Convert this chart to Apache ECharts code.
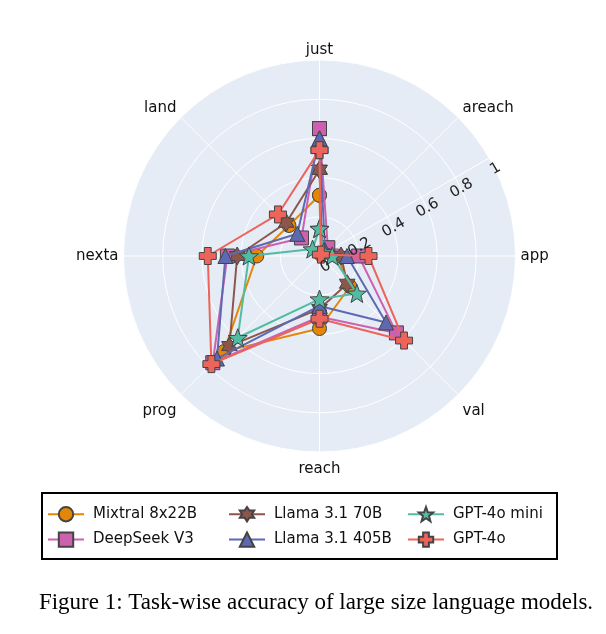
<!DOCTYPE html>
<html><head><meta charset="utf-8">
<script src="https://cdn.jsdelivr.net/npm/echarts@6/dist/echarts.min.js"></script>
<style>html,body{margin:0;padding:0;background:#fff;} #c{width:606px;height:634px;}</style>
</head><body><div id="c"></div>
<script>
const categories = ['just', 'areach', 'app', 'val', 'reach', 'prog', 'nexta', 'land'];
const radialTicks = [0, 0.2, 0.4, 0.6, 0.8, 1];
const seriesNames = ['Mixtral 8x22B', 'DeepSeek V3', 'Llama 3.1 70B', 'Llama 3.1 405B', 'GPT-4o mini', 'GPT-4o'];
const mixtral   = [0.31, 0.01, 0.09, 0.22, 0.37, 0.69, 0.32, 0.22];
const deepseek  = [0.65, 0.06, 0.20, 0.555, 0.31, 0.77, 0.47, 0.13];
const llama70   = [0.44, 0.02, 0.11, 0.20, 0.27, 0.65, 0.42, 0.24];
const llama405  = [0.60, 0.04, 0.14, 0.48, 0.255, 0.74, 0.48, 0.16];
const gpt4omini = [0.14, 0.03, 0.065, 0.27, 0.22, 0.59, 0.36, 0.05];
const gpt4o     = [0.54, 0.01, 0.25, 0.61, 0.32, 0.78, 0.57, 0.30];
const caption = 'Figure 1: Task-wise accuracy of large size language models.';

const values = [mixtral, deepseek, llama70, llama405, gpt4omini, gpt4o];
const colors = ['rgb(229,134,6)', 'rgb(204,97,176)', '#8c564b', 'rgb(93,105,177)', 'rgb(82,188,163)', 'rgb(237,100,90)'];

function starPath(n, inner) {
  let d = '';
  for (let k = 0; k < 2 * n; k++) {
    const a = -Math.PI / 2 + k * Math.PI / n;
    const r = k % 2 === 0 ? 1 : inner;
    d += (k === 0 ? 'M' : 'L') + (r * Math.cos(a)).toFixed(4) + ',' + (r * Math.sin(a)).toFixed(4);
  }
  return 'path://' + d + 'Z';
}
const crossPath = 'path://M-0.4,-1L0.4,-1L0.4,-0.4L1,-0.4L1,0.4L0.4,0.4L0.4,1L-0.4,1L-0.4,0.4L-1,0.4L-1,-0.4L-0.4,-0.4Z';
const symbols = ['circle', 'rect', starPath(6, 0.577), 'triangle', starPath(5, 0.42), crossPath];
const sizes = [14, 14, 18, 15, 19, 17];

const step = 360 / categories.length;
const CX = 319.5, CY = 256, R = 196;
const font = 'DejaVu Sans';

const series = values.map((vals, i) => ({
  name: seriesNames[i],
  type: 'line',
  coordinateSystem: 'polar',
  polarIndex: 0,
  data: vals.map((v, k) => [v, k * step]).concat([[vals[0], 360]]),
  symbol: symbols[i],
  symbolSize: sizes[i],
  symbolKeepAspect: true,
  showAllSymbol: true,
  lineStyle: { color: colors[i], width: 2 },
  itemStyle: { color: colors[i], borderColor: '#444', borderWidth: 1 },
  z: 3 + i
}));

const legendText = { fontSize: 15, color: '#111', fontFamily: font, padding: [0, 0, 0, 4] };
const legendBase = { orient: 'vertical', top: 506, padding: 0, itemWidth: 36, itemHeight: 18, itemGap: 9, textStyle: legendText, selectedMode: false };

const chart = echarts.init(document.getElementById('c'), null, { renderer: 'canvas' });
chart.setOption({
  animation: false,
  backgroundColor: '#fff',
  polar: [
    { center: [CX, CY], radius: R },
    { center: [CX, CY], radius: R },
    { center: [CX, CY], radius: R }
  ],
  angleAxis: [
    {
      polarIndex: 0, type: 'value', min: 0, max: 360, interval: step, startAngle: 90, clockwise: true, z: 2,
      axisLine: { show: false }, axisTick: { show: false },
      axisLabel: { formatter: v => categories[Math.round(v / step)] || '', margin: 2, padding: [8, 3, 0, 3],
        fontSize: 15, color: '#111', fontFamily: font },
      splitLine: { show: true, lineStyle: { color: '#fff', width: 1 } },
      splitArea: { show: false }
    },
    {
      polarIndex: 1, type: 'value', min: 0, max: 360, startAngle: 30, z: 0,
      axisLine: { show: false }, axisTick: { show: false }, axisLabel: { show: false }, splitLine: { show: false },
      splitArea: { show: true, areaStyle: { color: ['#E5ECF6'] } }
    },
    { polarIndex: 2, type: 'value', min: 0, max: 360, startAngle: 30, show: false }
  ],
  radiusAxis: [
    {
      polarIndex: 0, type: 'value', min: radialTicks[0], max: radialTicks[radialTicks.length - 1], interval: 0.2, z: 2,
      axisLine: { show: false }, axisTick: { show: false }, axisLabel: { show: false },
      splitLine: { show: true, lineStyle: { color: '#fff', width: 1 } }
    },
    {
      polarIndex: 1, type: 'value', min: 0, max: 1, interval: 0.2, z: 2,
      axisLine: { show: true, lineStyle: { color: '#fff', width: 1 } },
      axisTick: { show: false }, axisLabel: { show: false }, splitLine: { show: false }
    },
    {
      polarIndex: 2, type: 'value', min: 0, max: 1, interval: 0.2, z: 20,
      axisLine: { show: false }, axisTick: { show: false }, splitLine: { show: false },
      axisLabel: { show: true, rotate: 30, margin: -20, fontSize: 15, color: '#222', fontFamily: font,
        showMinLabel: true, showMaxLabel: true,
        formatter: v => String(radialTicks.find(t => Math.abs(t - v) < 1e-6) ?? '') }
    }
  ],
  legend: [
    Object.assign({}, legendBase, { left: 47, data: [seriesNames[0], seriesNames[1]] }),
    Object.assign({}, legendBase, { left: 228, data: [seriesNames[2], seriesNames[3]] }),
    Object.assign({}, legendBase, { left: 407, data: [seriesNames[4], seriesNames[5]] })
  ],
  graphic: [
    { type: 'rect', shape: { x: 42, y: 493, width: 515, height: 66 }, style: { fill: 'none', stroke: '#000', lineWidth: 2 }, z: 10 },
    { type: 'text', x: 316, y: 603, style: { text: caption, font: '23px "Liberation Serif"', fill: '#000', textAlign: 'center', textVerticalAlign: 'middle' }, z: 10 }
  ],
  series: series
});
</script></body></html>
